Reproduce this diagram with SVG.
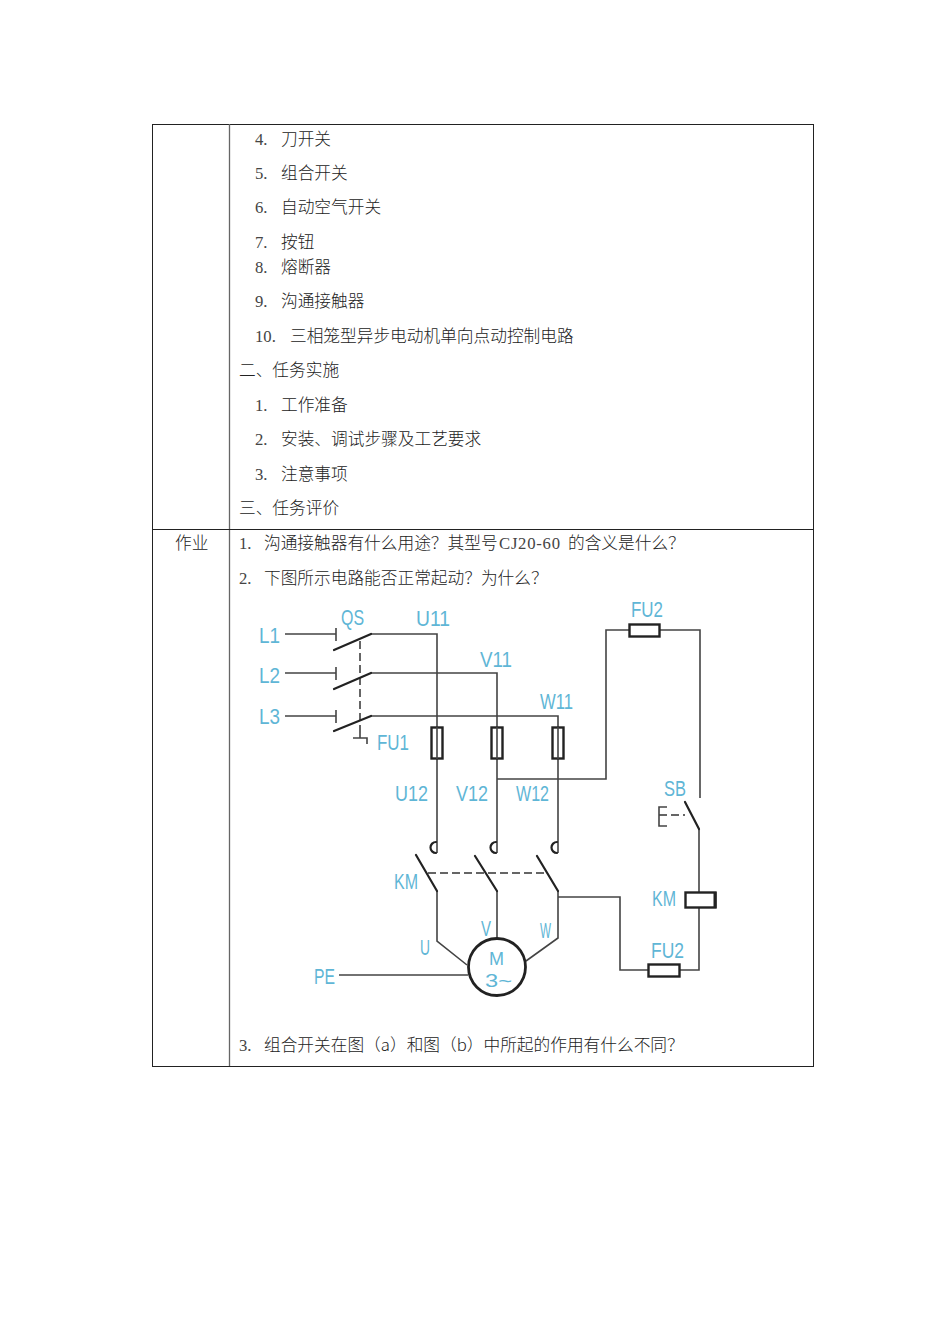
<svg xmlns="http://www.w3.org/2000/svg" width="950" height="1344" viewBox="0 0 950 1344">
<style>
.t{font-family:"Liberation Serif","Noto Sans CJK SC",serif;font-size:16.7px;fill:#444}
.c{font-family:"Noto Sans CJK SC","Liberation Serif",sans-serif;font-size:16.7px;font-weight:300;fill:#222}
.l{font-family:"Liberation Sans",sans-serif;font-size:22px;fill:#5fb6d6}
.m{font-family:"Liberation Sans",sans-serif;font-size:18.500px;fill:#5fb6d6}
.w{fill:none;stroke:#444;stroke-width:1.6}
.b{fill:none;stroke:#222;stroke-width:2.2;stroke-linecap:round}
.f{fill:#fff;stroke:#222;stroke-width:2.4}
.d{fill:none;stroke:#333;stroke-width:1.5;stroke-dasharray:8 4}
</style>
<rect width="950" height="1344" fill="#fff"/>
<g id="table" fill="none">
<rect x="152.500" y="124.500" width="661" height="942" stroke="#222" stroke-width="1"/>
<path d="M229.500 124V1066" stroke="#666" stroke-width="1.300"/>
<path d="M152 529.500H813" stroke="#222" stroke-width="1"/>
</g>
<g id="text">
<text class="t" x="255" y="144.500">4.</text><text class="c" x="281" y="144.500">刀开关</text>
<text class="t" x="255" y="179">5.</text><text class="c" x="281" y="179">组合开关</text>
<text class="t" x="255" y="213">6.</text><text class="c" x="281" y="213">自动空气开关</text>
<text class="t" x="255" y="247.500">7.</text><text class="c" x="281" y="247.500">按钮</text>
<text class="t" x="255" y="272.500">8.</text><text class="c" x="281" y="272.500">熔断器</text>
<text class="t" x="255" y="307">9.</text><text class="c" x="281" y="307">沟通接触器</text>
<text class="t" x="255" y="341.500">10.</text><text class="c" x="290" y="341.500">三相笼型异步电动机单向点动控制电路</text>
<text class="c" x="239" y="376">二、任务实施</text>
<text class="t" x="255" y="410.500">1.</text><text class="c" x="281" y="410.500">工作准备</text>
<text class="t" x="255" y="445">2.</text><text class="c" x="281" y="445">安装、调试步骤及工艺要求</text>
<text class="t" x="255" y="479.500">3.</text><text class="c" x="281" y="479.500">注意事项</text>
<text class="c" x="239" y="514">三、任务评价</text>
<text class="c" x="175" y="549">作业</text>
<text class="t" x="239" y="549">1.</text><text class="c" x="264" y="549">沟通接触器有什么用途？其型号</text><text class="t" x="499" y="549" textLength="61" lengthAdjust="spacing">CJ20-60</text><text class="c" x="568" y="549">的含义是什么？</text>
<text class="t" x="239" y="583.500">2.</text><text class="c" x="264" y="583.500">下图所示电路能否正常起动？为什么？</text>
<text class="t" x="239" y="1051">3.</text><text class="c" x="264" y="1051">组合开关在图（a）和图（b）中所起的作用有什么不同？</text>
</g>
<g id="connectors">
<path class="w" d="M285 634H336M285 673H336M285 716H336"/>
<path class="w" d="M336 628V641M336 667V680M336 710V723" stroke-width="1.200"/>
<path class="w" d="M371 634H437V853M371 673H497V853M371 716H558V853"/>
<path class="w" d="M497 779H606V630H700V798"/>
<path class="w" d="M699 829V970H620V897H558M558 891V938L526 961M497 891V938M437 891V941L467 965M339 975H468"/>
<path class="d" d="M360 641V733"/>
<path class="w" d="M360 733V738H353M360 738H367V744"/>
<path class="d" d="M428 873H547"/>
<path class="d" d="M659 815H685" stroke-dasharray="6 3"/>
</g>
<g id="QS">
<path class="b" d="M334 650L371 634M334 689L371 673M334 731L371 716"/>
<text class="l" x="341" y="625" textLength="23" lengthAdjust="spacingAndGlyphs">QS</text>
</g>
<g id="supply-labels">
<text class="l" x="259" y="643" textLength="21" lengthAdjust="spacingAndGlyphs">L1</text>
<text class="l" x="259" y="683" textLength="21" lengthAdjust="spacingAndGlyphs">L2</text>
<text class="l" x="259" y="724" textLength="21" lengthAdjust="spacingAndGlyphs">L3</text>
<text class="l" x="416" y="626" textLength="34" lengthAdjust="spacingAndGlyphs">U11</text>
<text class="l" x="480" y="667" textLength="32" lengthAdjust="spacingAndGlyphs">V11</text>
<text class="l" x="540" y="709" textLength="33" lengthAdjust="spacingAndGlyphs">W11</text>
<text class="l" x="395" y="801" textLength="33" lengthAdjust="spacingAndGlyphs">U12</text>
<text class="l" x="456" y="801" textLength="32" lengthAdjust="spacingAndGlyphs">V12</text>
<text class="l" x="516" y="801" textLength="33" lengthAdjust="spacingAndGlyphs">W12</text>
<text class="l" x="314" y="984" textLength="21" lengthAdjust="spacingAndGlyphs">PE</text>
</g>
<g id="FU1">
<rect class="f" x="431.500" y="727.500" width="11" height="31"/>
<rect class="f" x="491.500" y="727.500" width="11" height="31"/>
<rect class="f" x="552.500" y="727.500" width="11" height="31"/>
<path class="w" d="M437 727V759M497 727V759M558 727V759" stroke-width="1.200"/>
<text class="l" x="377" y="750" textLength="32" lengthAdjust="spacingAndGlyphs">FU1</text>
</g>
<g id="FU2-top">
<rect class="f" x="629.500" y="624.500" width="30" height="12"/>
<text class="l" x="631" y="617" textLength="32" lengthAdjust="spacingAndGlyphs">FU2</text>
</g>
<g id="SB">
<path class="b" d="M685 802L699 829"/>
<path class="w" d="M667 807H659V826H667" stroke-width="1.800"/>
<text class="l" x="664" y="796" textLength="22" lengthAdjust="spacingAndGlyphs">SB</text>
</g>
<g id="KM-contacts">
<path class="b" d="M416 855L437 891M475 856L497 891M537 856L558 891"/>
<path class="b" d="M436 842A4.500 4.500 0 0 0 436 853M496 842A4.500 4.500 0 0 0 496 853M557 842A4.500 4.500 0 0 0 557 853"/>
<text class="l" x="394" y="889" textLength="24" lengthAdjust="spacingAndGlyphs">KM</text>
</g>
<g id="KM-coil">
<rect class="f" x="685.500" y="892.500" width="30" height="15"/>
<path d="M715 892V908" stroke="#222" stroke-width="3"/>
<text class="l" x="652" y="906" textLength="24" lengthAdjust="spacingAndGlyphs">KM</text>
</g>
<g id="FU2-bottom">
<rect class="f" x="648.500" y="964.500" width="31" height="12"/>
<text class="l" x="651" y="958" textLength="33" lengthAdjust="spacingAndGlyphs">FU2</text>
</g>
<g id="motor">
<circle cx="497" cy="967" r="28.500" fill="#fff" stroke="#222" stroke-width="2.800"/>
<text class="m" x="489" y="965" textLength="15" lengthAdjust="spacingAndGlyphs">M</text>
<text class="m" x="485" y="987" textLength="27" lengthAdjust="spacingAndGlyphs">3~</text>
<text class="l" x="420" y="955" textLength="10" lengthAdjust="spacingAndGlyphs">U</text>
<text class="l" x="481" y="936" textLength="10" lengthAdjust="spacingAndGlyphs">V</text>
<text class="l" x="540" y="938" textLength="11" lengthAdjust="spacingAndGlyphs">W</text>
</g>
</svg>
